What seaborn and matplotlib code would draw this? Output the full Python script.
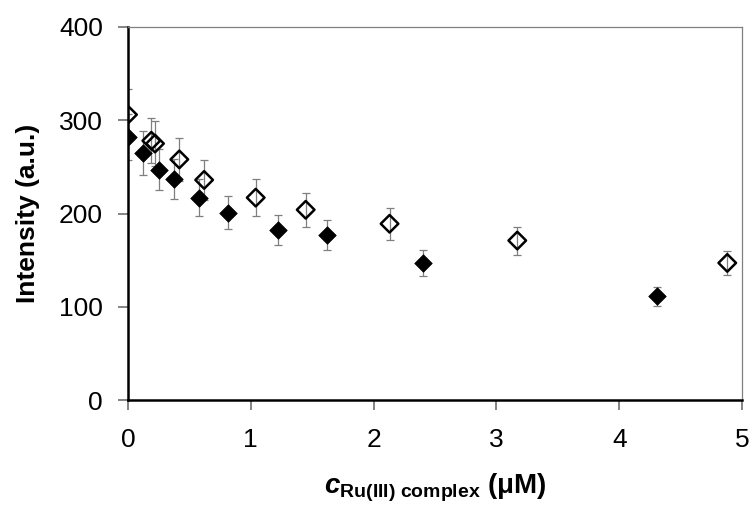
import numpy as np
import pandas as pd
import matplotlib
matplotlib.use('Agg')
import matplotlib.pyplot as plt
import seaborn as sns

# values
conc_filled = [0, 0.125, 0.253, 0.375, 0.575, 0.817, 1.225, 1.62, 2.405, 4.305]
int_filled = [282, 265, 247, 237, 217, 201, 182, 177, 147, 111]
err_filled = [25, 24, 22, 21, 20, 18, 16, 16, 14, 10]

conc_open = [0, 0.19, 0.22, 0.418, 0.62, 1.04, 1.447, 2.13, 3.17, 4.88]
int_open = [306, 278, 275, 258, 236, 217, 204, 189, 171, 147]
err_open = [27, 24, 24, 23, 21, 20, 18, 17, 15, 13]

x_ticks = [0, 1, 2, 3, 4, 5]
y_ticks = [0, 100, 200, 300, 400]

sns.set_style('ticks', {'xtick.major.size': 7, 'ytick.major.size': 7,
                        'text.color': 'black', 'axes.labelcolor': 'black',
                        'xtick.color': 'black', 'ytick.color': 'black'})
plt.rcParams['font.family'] = ['Liberation Sans', 'DejaVu Sans']
plt.rcParams['mathtext.fontset'] = 'custom'
plt.rcParams['mathtext.rm'] = 'Liberation Sans'
plt.rcParams['mathtext.it'] = 'Liberation Sans:italic'
plt.rcParams['mathtext.bf'] = 'Liberation Sans:bold'
plt.rcParams['mathtext.bfit'] = 'Liberation Sans:bold:italic'

df_f = pd.DataFrame({'c': conc_filled, 'I': int_filled, 'e': err_filled})
df_o = pd.DataFrame({'c': conc_open, 'I': int_open, 'e': err_open})

fig = plt.figure(figsize=(7.55, 5.08), dpi=100)
ax = fig.add_axes([128 / 755, 1 - 400 / 508, 614 / 755, 373 / 508])

for d in (df_f, df_o):
    ax.errorbar(d['c'], d['I'], yerr=d['e'], fmt='none', ecolor='#7f7f7f',
                elinewidth=0.9, capsize=3, capthick=0.9, zorder=2)

sns.scatterplot(data=df_f, x='c', y='I', marker='D', color='black', s=80,
                edgecolor='black', linewidth=0.5, ax=ax, zorder=3)
sns.scatterplot(data=df_o, x='c', y='I', marker='D', color='black', s=80,
                linewidth=1.8, ax=ax, zorder=3)
coll = ax.collections[-1]
coll.set_facecolor('none')
coll.set_edgecolor('black')

ax.set_xlim(0, 5)
ax.set_ylim(0, 400)
ax.set_xticks(x_ticks)
ax.set_yticks(y_ticks)
ax.xaxis.set_tick_params(which='major', direction='out', length=7, width=1.2,
                         color='#707070', labelcolor='black', labelsize=19,
                         pad=13, bottom=True)
ax.yaxis.set_tick_params(which='major', direction='out', length=7, width=1.2,
                         color='#707070', labelcolor='black', labelsize=19,
                         pad=11, left=True)

for side in ('left', 'bottom'):
    ax.spines[side].set_color('black')
    ax.spines[side].set_linewidth(1.8)
for side in ('top', 'right'):
    ax.spines[side].set_visible(True)
    ax.spines[side].set_color('#808080')
    ax.spines[side].set_linewidth(0.9)

ax.set_xlabel(r'$\boldsymbol{c}_{\mathbf{Ru(III)\ complex}}$ $\mathbf{(\mu M)}$',
              fontsize=20, labelpad=14, color='black')
ax.set_ylabel('Intensity (a.u.)', fontsize=19, fontweight='bold', labelpad=14,
              color='black')

fig.savefig('out.png', dpi=100)
